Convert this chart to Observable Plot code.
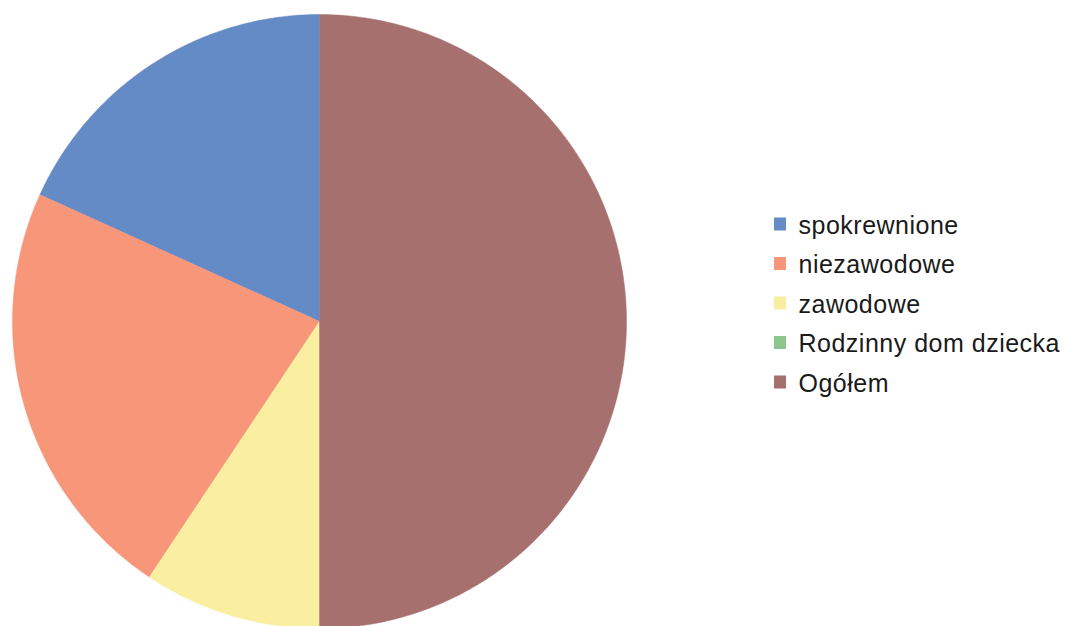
<!DOCTYPE html>
<html>
<head>
<meta charset="utf-8">
<script src="https://cdn.jsdelivr.net/npm/d3@7"></script>
<script src="https://cdn.jsdelivr.net/npm/@observablehq/plot@0.6"></script>
<style>
  html, body { margin: 0; padding: 0; background: #fff; }
  #chart svg { display: block; }
</style>
</head>
<body>
<div id="chart"></div>
<script>
const categories = ["spokrewnione", "niezawodowe", "zawodowe", "Rodzinny dom dziecka", "Ogółem"];
const values = [39, 48, 20, 0, 107];
const colors = ["#658BC6", "#F8967A", "#FAEEA0", "#8CC68C", "#A6706E"];

const W = 1066, H = 626;
const cx = 319, cy = 321, R = 307;

const data = categories.map((name, i) => ({name, value: values[i]}));
const arcs = d3.pie().value(d => d.value).sort(null).startAngle(0).endAngle(-2 * Math.PI)(data);

const slicePts = [];
for (const a of arcs) {
  if (a.startAngle === a.endAngle) continue;
  const n = Math.max(4, Math.ceil(Math.abs(a.endAngle - a.startAngle) * 80));
  slicePts.push({name: a.data.name, x: cx, y: cy});
  for (let k = 0; k <= n; k++) {
    const t = a.startAngle + (a.endAngle - a.startAngle) * k / n;
    slicePts.push({name: a.data.name, x: cx + R * Math.sin(t), y: cy - R * Math.cos(t)});
  }
  slicePts.push({name: a.data.name, x: cx, y: cy});
}

const legendX = 774, legendY0 = 224, legendStep = 39.5, sw = 12;
const legend = categories.map((name, i) => ({name, x: legendX, y: legendY0 + i * legendStep}));

const chart = Plot.plot({
  width: W,
  height: H,
  margin: 0,
  x: {domain: [0, W], range: [0, W], axis: null},
  y: {domain: [0, H], range: [0, H], axis: null},
  color: {domain: categories, range: colors, type: "ordinal"},
  style: {background: "#fff", fontFamily: "'Liberation Sans', Arial, sans-serif", letterSpacing: "0.5px"},
  marks: [
    Plot.line(slicePts, {x: "x", y: "y", z: "name", fill: "name", stroke: "name", strokeWidth: 0.5, curve: "linear"}),
    Plot.rect(legend, {x1: d => d.x, x2: d => d.x + sw, y1: d => d.y - sw / 2 - 0.5, y2: d => d.y + sw / 2 + 0.5, fill: "name"}),
    Plot.text(legend, {x: d => d.x + sw + 12, y: d => d.y + 1, text: "name", textAnchor: "start", fontSize: 25, fill: "#1a1a1a"})
  ]
});
document.getElementById("chart").appendChild(chart);
</script>
</body>
</html>
